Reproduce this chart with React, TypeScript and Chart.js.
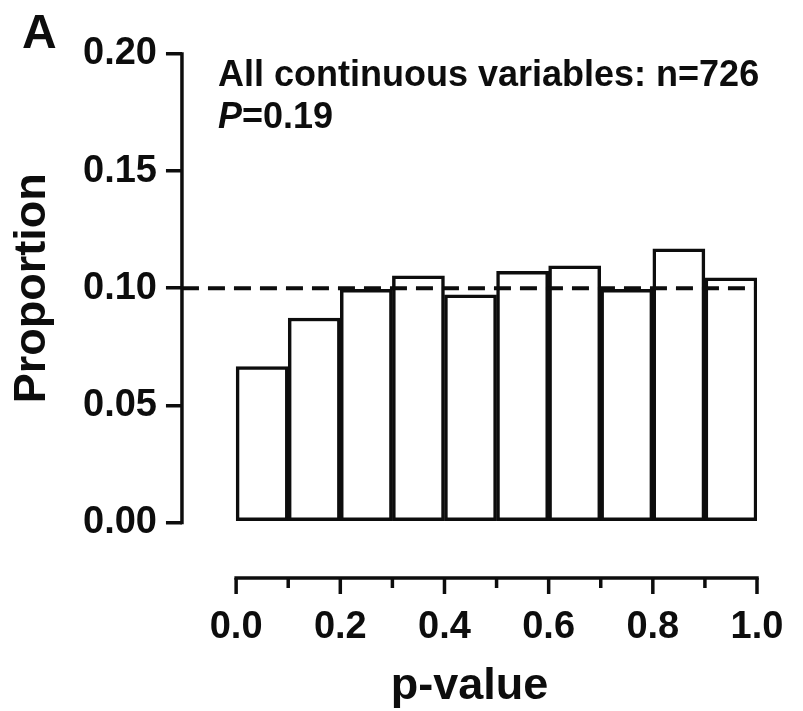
import React, { useEffect, useRef } from "react";
import { Chart, registerables } from "chart.js";

Chart.register(...registerables);

// ---- data ----
const binStarts = [0, 0.1, 0.2, 0.3, 0.4, 0.5, 0.6, 0.7, 0.8, 0.9];
const binWidth = 0.1;
const proportions = [0.0666, 0.0873, 0.0995, 0.1053, 0.0972, 0.1072, 0.1096, 0.0995, 0.1168, 0.1044];
const expectedProportion = 0.1;
const yTicks = [0, 0.05, 0.1, 0.15, 0.2];
const yTickLabels = ["0.00", "0.05", "0.10", "0.15", "0.20"];
const xTicks = [0, 0.1, 0.2, 0.3, 0.4, 0.5, 0.6, 0.7, 0.8, 0.9, 1.0];
const xTickLabels = ["0.0", "", "0.2", "", "0.4", "", "0.6", "", "0.8", "", "1.0"];
const xTitle = "p-value";
const yTitle = "Proportion";
const panelLabel = "A";
const noteLine1 = "All continuous variables: n=726";
const noteP = "P";
const notePValue = "=0.19";

// ---- style ----
const INK = "#0d0d0d";
const FONT = '"Liberation Sans", Arial, sans-serif';
const X_MIN = -0.104;
const X_MAX = 1.0;
const Y_MIN = -0.0237;
const Y_MAX = 0.2;

const decorPlugin = {
  id: "decor",
  afterDatasetsDraw(chart: any) {
    const { ctx, chartArea, scales } = chart;
    const x = scales.x;
    const y = scales.y;
    ctx.save();
    ctx.strokeStyle = INK;
    ctx.fillStyle = INK;
    ctx.lineCap = "butt";
    ctx.lineWidth = 3.5;

    // y axis line (0 .. 0.2)
    const yx = chartArea.left;
    ctx.beginPath();
    ctx.moveTo(yx, y.getPixelForValue(yTicks[0]) + 1.75);
    ctx.lineTo(yx, y.getPixelForValue(yTicks[yTicks.length - 1]) - 1.75);
    ctx.stroke();

    // x axis line (0 .. 1)
    const xy = chartArea.bottom;
    const x0 = x.getPixelForValue(xTicks[0]);
    const x1 = x.getPixelForValue(xTicks[xTicks.length - 1]);
    ctx.beginPath();
    ctx.moveTo(x0 - 1.75, xy);
    ctx.lineTo(x1 + 1.75, xy);
    ctx.stroke();
    xTicks.forEach((v, i) => {
      const px = x.getPixelForValue(v);
      const len = xTickLabels[i] ? 16 : 10;
      ctx.beginPath();
      ctx.moveTo(px, xy);
      ctx.lineTo(px, xy + len);
      ctx.stroke();
    });

    // panel label
    ctx.textBaseline = "alphabetic";
    ctx.textAlign = "left";
    ctx.font = `bold 48px ${FONT}`;
    ctx.fillText(panelLabel, 22, 48);

    // annotation
    ctx.font = `bold 36px ${FONT}`;
    ctx.fillText(noteLine1, 218, 86);
    ctx.font = `italic bold 36px ${FONT}`;
    ctx.fillText(noteP, 218, 128);
    const pw = ctx.measureText(noteP).width;
    ctx.font = `bold 36px ${FONT}`;
    ctx.fillText(notePValue, 218 + pw, 128);

    // y title
    ctx.translate(45, y.getPixelForValue((yTicks[0] + yTicks[yTicks.length - 1]) / 2));
    ctx.rotate(-Math.PI / 2);
    ctx.textAlign = "center";
    ctx.font = `bold 45px ${FONT}`;
    ctx.fillText(yTitle, 0, 0);
    ctx.restore();
  },
};

export default function App() {
  const canvasRef = useRef<HTMLCanvasElement | null>(null);

  useEffect(() => {
    const canvas = canvasRef.current;
    if (!canvas) return;
    const barData = binStarts.map((s, i) => ({ x: s + binWidth / 2, y: proportions[i] }));
    const refLine = [
      { x: X_MIN, y: expectedProportion },
      { x: X_MAX, y: expectedProportion },
    ];
    const chart = new Chart(canvas, {
      type: "bar",
      data: {
        datasets: [
          {
            type: "line",
            data: refLine,
            borderColor: INK,
            borderWidth: 4,
            borderDash: [17, 9],
            pointRadius: 0,
            fill: false,
            order: 0,
          } as any,
          {
            type: "bar",
            data: barData,
            backgroundColor: "#ffffff",
            borderColor: INK,
            borderWidth: 3.5,
            borderSkipped: false,
            barPercentage: 1,
            categoryPercentage: 1,
            order: 1,
          } as any,
        ],
      },
      options: {
        animation: false,
        responsive: false,
        devicePixelRatio: 1,
        layout: { padding: { left: 74, top: 54, right: 46, bottom: 0 } },
        plugins: { legend: { display: false }, tooltip: { enabled: false } },
        scales: {
          x: {
            type: "linear",
            min: X_MIN,
            max: X_MAX,
            offset: false,
            afterBuildTicks: (s: any) => {
              s.ticks = xTicks.map((v) => ({ value: v }));
            },
            border: { display: false },
            grid: {
              display: true,
              drawOnChartArea: false,
              drawTicks: true,
              tickLength: 31,
              tickColor: "rgba(0,0,0,0)",
            },
            ticks: {
              autoSkip: false,
              maxRotation: 0,
              padding: 0,
              color: INK,
              font: { family: FONT, size: 38, weight: "bold", lineHeight: 1 },
              callback: (_v: any, i: number) => xTickLabels[i],
            },
            title: {
              display: true,
              text: xTitle,
              color: INK,
              font: { family: FONT, size: 45, weight: "bold", lineHeight: 1 },
              padding: { top: 17.5, bottom: 1.5 },
            },
          },
          y: {
            type: "linear",
            min: Y_MIN,
            max: Y_MAX,
            afterBuildTicks: (s: any) => {
              s.ticks = yTicks.map((v) => ({ value: v }));
            },
            border: { display: false },
            grid: {
              display: true,
              drawOnChartArea: false,
              drawTicks: true,
              tickLength: 16,
              lineWidth: 3.5,
              tickWidth: 3.5,
              tickColor: INK,
              color: INK,
            },
            ticks: {
              padding: 9,
              color: INK,
              font: { family: FONT, size: 38, weight: "bold", lineHeight: 1 },
              callback: (_v: any, i: number) => yTickLabels[i],
            },
          },
        },
      },
      plugins: [decorPlugin],
    } as any);
    return () => chart.destroy();
  }, []);

  return (
    <div style={{ position: "absolute", left: 0, top: 0, width: 803, height: 711, background: "#fff" }}>
      <canvas ref={canvasRef} width={803} height={711} style={{ display: "block", width: 803, height: 711 }} />
    </div>
  );
}
